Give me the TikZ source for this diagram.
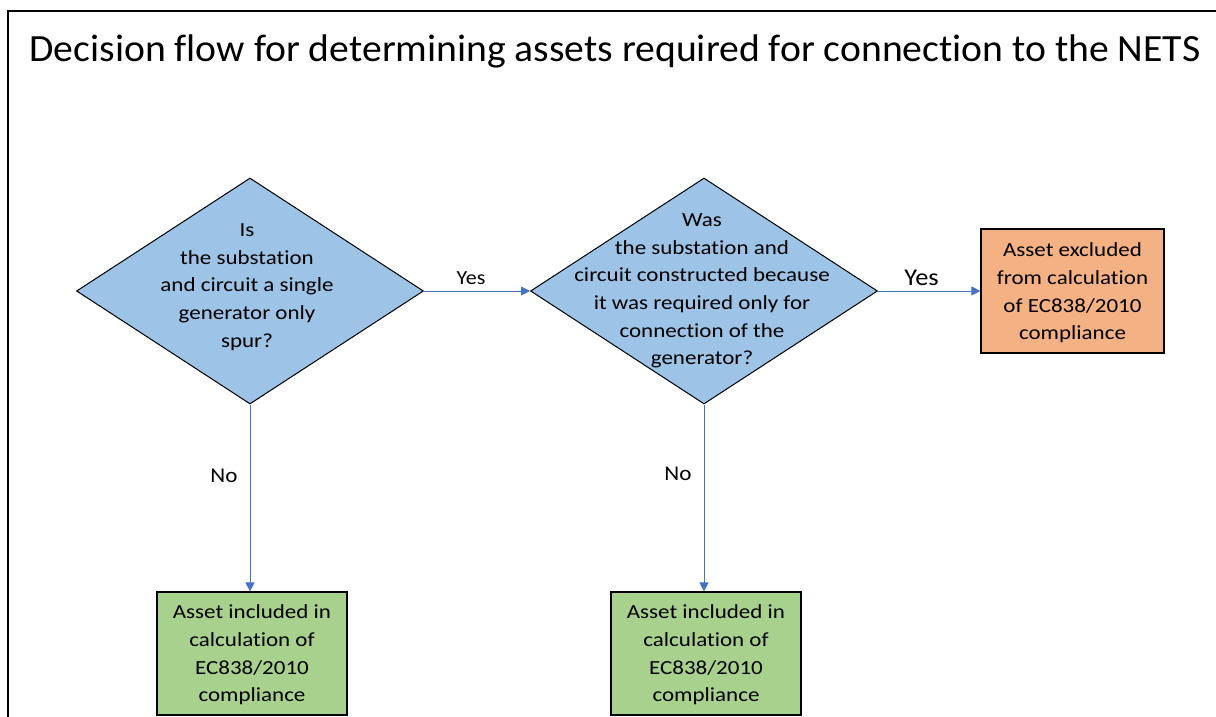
\documentclass[tikz,border=0pt]{standalone}
\usepackage{fontspec}
\setmainfont[Ligatures=CommonOff]{Carlito}
\newfontfamily\wf[Ligatures=CommonOff,FakeStretch=1.15]{Carlito}
\newfontfamily\lf[Ligatures=CommonOff,FakeStretch=1.1]{Carlito}
\newfontfamily\tf[Ligatures=CommonOff,FakeStretch=1.03]{Carlito}
\usetikzlibrary{shapes.geometric,arrows.meta}
\definecolor{dblue}{HTML}{9DC3E6}
\definecolor{borange}{HTML}{F4B183}
\definecolor{bgreen}{HTML}{A9D18E}
\definecolor{lblue}{HTML}{4472C4}
\begin{document}
\begin{tikzpicture}[x=1pt,y=-1pt,
 dec/.style={diamond, draw=black, line width=1pt, fill=dblue, minimum width=347pt, minimum height=226pt, inner sep=0pt},
 txt/.style={align=center, font=\wf\fontsize{20}{27.7}\selectfont, inner sep=0pt},
 boxg/.style={draw=black, line width=1.2pt, fill=bgreen, minimum width=190pt, minimum height=123pt, inner sep=0pt},
 boxo/.style={boxg, fill=borange, minimum width=183pt, minimum height=124pt},
 arr/.style={draw=lblue, line width=0.9pt, -{Triangle[length=9pt,width=9pt]}},
 lab/.style={font=\lf\fontsize{21}{24}\selectfont, inner sep=0pt, anchor=base}]
\useasboundingbox (0,0) rectangle (1216,717);
\begin{scope}
\clip (0,0) rectangle (1216,717);
\draw[line width=2pt] (8,11) rectangle (1240,740);
\end{scope}
\node[font=\tf\fontsize{38.5}{40}\selectfont, inner sep=0pt, anchor=base] (title) at (615,62) {Decision flow for determining assets required for connection to the NETS};
\node[dec] (d1) at (250,291) {};
\node[txt] (d1t) at (247,287) {Is\\the substation\\and circuit a single\\generator only\\spur?};
\node[dec] (d2) at (704,291) {};
\node[txt] (d2t) at (702,291) {Was\\the substation and\\circuit constructed because\\it was required only for\\connection of the\\generator?};
\node[boxo] (ob) at (1072.5,291) {};
\node[txt] (obt) at (1072.5,293) {Asset excluded\\from calculation\\of EC838/2010\\compliance};
\node[boxg] (g1) at (252,653.5) {};
\node[txt] (g1t) at (252,655) {Asset included in\\calculation of\\EC838/2010\\compliance};
\node[boxg] (g2) at (706,653.5) {};
\node[txt] (g2t) at (706,655) {Asset included in\\calculation of\\EC838/2010\\compliance};
\draw[arr] (d1.east) -- (d2.west);
\draw[arr] (d2.east) -- (ob.west);
\draw[arr] (d1.south) -- (d1.south |- g1.north);
\draw[arr] (d2.south) -- (d2.south |- g2.north);
\node[lab, font=\lf\fontsize{20}{24}\selectfont] (y1) at (471,284) {Yes};
\node[lab, font=\lf\fontsize{24}{26}\selectfont] (y2) at (921.5,285) {Yes};
\node[lab] (n1) at (224,482) {No};
\node[lab] (n2) at (678,480) {No};
\end{tikzpicture}
\end{document}
